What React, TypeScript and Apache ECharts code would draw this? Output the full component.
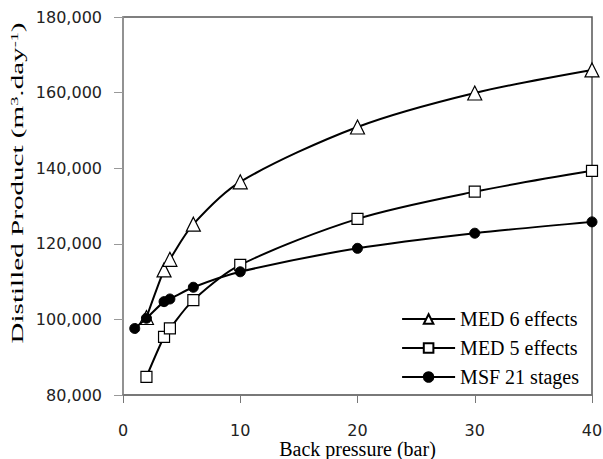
import React, { useEffect, useRef } from "react";
import * as echarts from "echarts";

const xMED6 = [2, 3.5, 4, 6, 10, 20, 30, 40];
const yMED6 = [100500, 113100, 115900, 125200, 136400, 150900, 159900, 166000];
const xMED5 = [2, 3.5, 4, 6, 10, 20, 30, 40];
const yMED5 = [84800, 95400, 97600, 105100, 114400, 126600, 133800, 139300];
const xMSF = [1, 2, 3.5, 4, 6, 10, 20, 30, 40];
const yMSF = [97600, 100300, 104700, 105400, 108500, 112600, 118800, 122800, 125800];
const seriesNames = ["MED 6 effects", "MED 5 effects", "MSF 21 stages"];

const zip = (xs: number[], ys: number[]) => xs.map((x, i) => [x, ys[i]]);

export default function App() {
  const ref = useRef<HTMLDivElement>(null);
  useEffect(() => {
    if (!ref.current) return;
    const chart = echarts.init(ref.current, undefined, { renderer: "svg" });
    const lineStyle = { color: "#000", width: 2 };
    chart.setOption({
      animation: false,
      backgroundColor: "#fff",
      grid: {
        left: 123,
        right: 11,
        top: 17,
        bottom: 64,
        containLabel: false,
        outerBoundsMode: "none",
        show: true,
        borderColor: "#555",
        borderWidth: 1.5,
      },
      legend: {
        orient: "vertical",
        right: 19,
        top: 304,
        itemWidth: 53,
        itemHeight: 12,
        itemGap: 9,
        data: seriesNames,
        textStyle: { fontFamily: "Liberation Serif", fontSize: 20, color: "#000" },
      },
      xAxis: {
        type: "value",
        min: 0,
        max: 40,
        interval: 10,
        name: "Back pressure (bar)",
        nameLocation: "middle",
        nameGap: 44,
        nameMoveOverlap: false,
        nameTextStyle: { fontFamily: "Liberation Serif", fontSize: 20, lineHeight: 20, color: "#000" },
        axisLine: { show: true, lineStyle: { color: "#777", width: 1.5 } },
        axisTick: { show: true, inside: false, length: 8, lineStyle: { color: "#777" } },
        splitLine: { show: false },
        axisLabel: { fontFamily: "DejaVu Sans", fontSize: 16, lineHeight: 16, color: "#222", margin: 27 },
      },
      yAxis: {
        type: "value",
        min: 80000,
        max: 180000,
        interval: 20000,
        axisLine: { show: true, lineStyle: { color: "#999", width: 1.5 } },
        axisTick: { show: true, inside: false, length: 9, lineStyle: { color: "#999" } },
        splitLine: { show: false },
        axisLabel: {
          fontFamily: "DejaVu Sans",
          fontSize: 16,
          color: "#222",
          margin: 21,
          formatter: (v: number) => v.toLocaleString("en-US"),
        },
      },
      graphic: [
        {
          type: "text",
          x: 18,
          y: 183,
          rotation: Math.PI / 2,
          scaleX: 1.82,
          style: {
            text: "{a|Distilled Product (m}{s|3}{a|.day}{s|-1}{a|)}",
            textAlign: "center",
            textVerticalAlign: "middle",
            fill: "#000",
            rich: {
              a: { fontFamily: "Liberation Serif", fontSize: 16, color: "#000" },
              s: { fontFamily: "Liberation Serif", fontSize: 10, color: "#000", verticalAlign: "top" },
            },
          },
        },
      ],
      series: [
        {
          name: seriesNames[0],
          type: "line",
          data: zip(xMED6, yMED6),
          smooth: 0.3,
          symbol: "triangle",
          symbolSize: 14,
          lineStyle,
          itemStyle: { color: "#fff", borderColor: "#000", borderWidth: 1.2 },
          z: 3,
        },
        {
          name: seriesNames[1],
          type: "line",
          data: zip(xMED5, yMED5),
          smooth: 0.3,
          symbol: "rect",
          symbolSize: 11,
          lineStyle,
          itemStyle: { color: "#fff", borderColor: "#000", borderWidth: 1.2 },
          z: 2,
        },
        {
          name: seriesNames[2],
          type: "line",
          data: zip(xMSF, yMSF),
          smooth: 0.3,
          symbol: "circle",
          symbolSize: 10,
          lineStyle,
          itemStyle: { color: "#000", borderColor: "#000", borderWidth: 1 },
          z: 4,
        },
      ],
    });
    return () => chart.dispose();
  }, []);
  return <div ref={ref} style={{ width: 603, height: 459, position: "absolute", left: 0, top: 0 }} />;
}
